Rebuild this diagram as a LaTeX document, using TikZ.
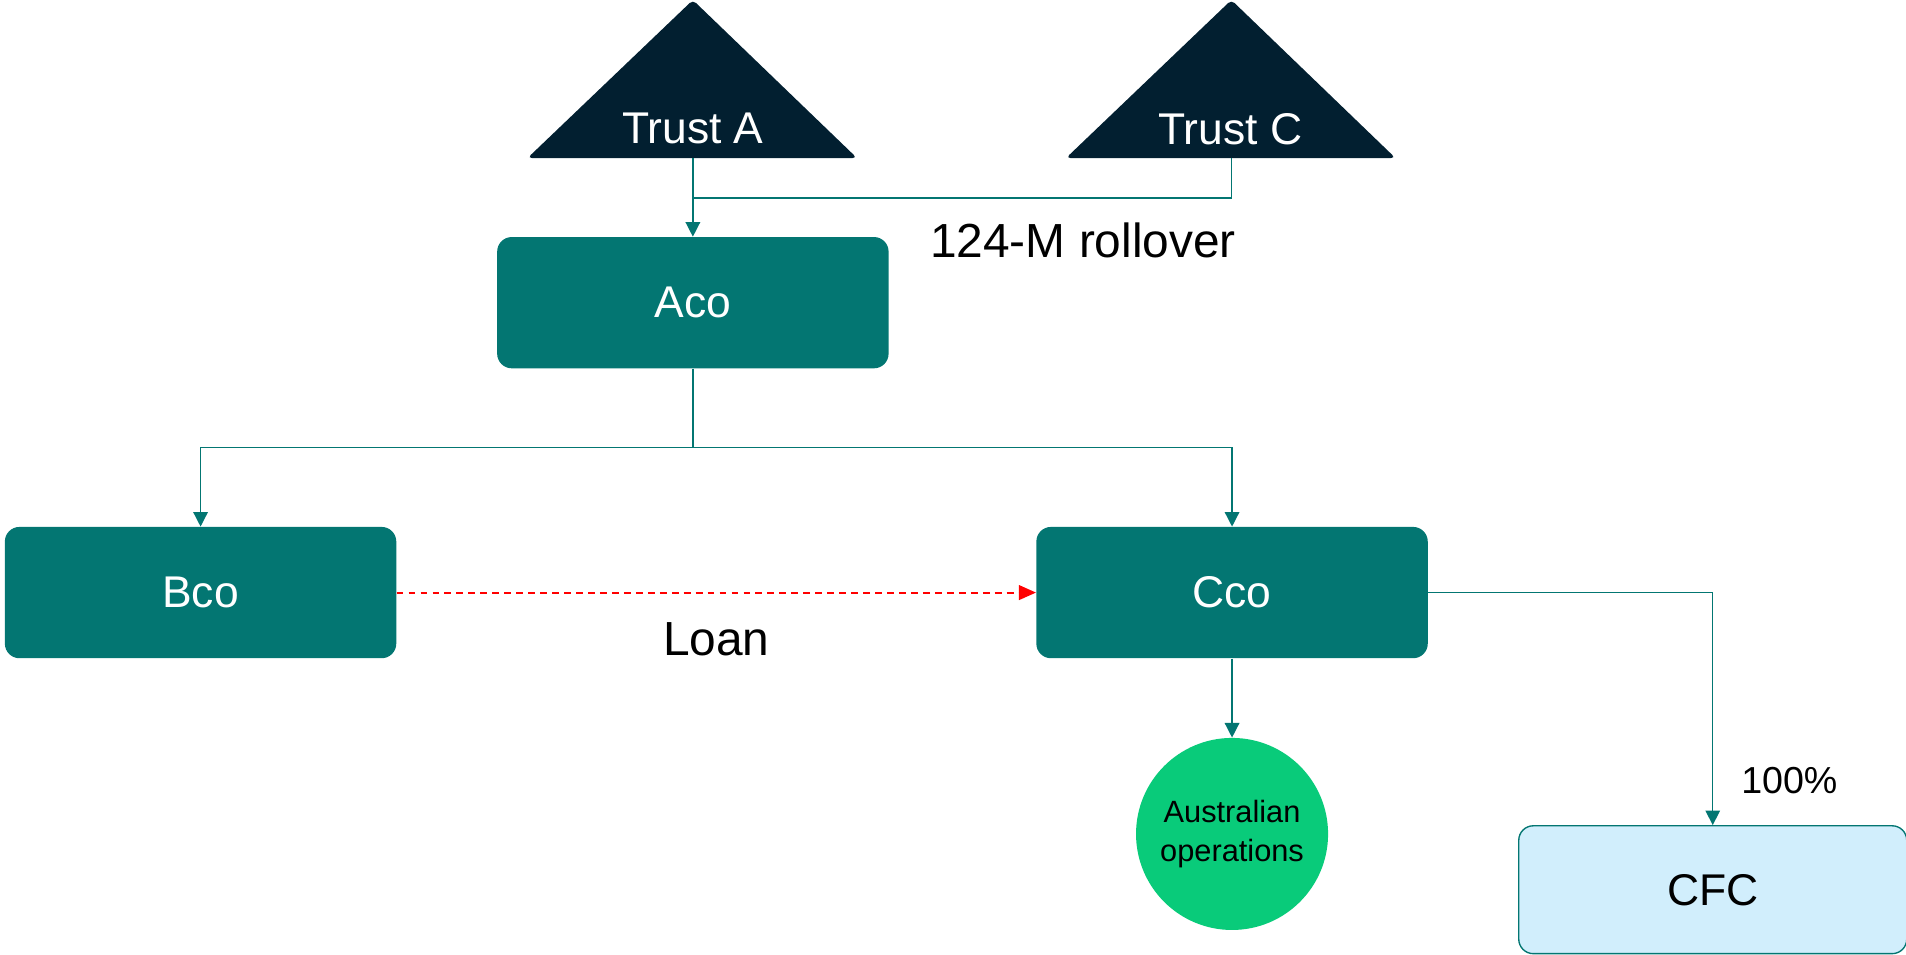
\documentclass[tikz,border=0pt]{standalone}
\usepackage{fontspec}
\setmainfont{Liberation Sans}
\usepackage{xcolor}
\usetikzlibrary{positioning,arrows.meta}

\definecolor{boxteal}{RGB}{3,118,114}
\definecolor{trustnavy}{RGB}{2,31,48}
\definecolor{opsgreen}{RGB}{9,203,122}
\definecolor{cfcblue}{RGB}{209,238,252}

\begin{document}
\begin{tikzpicture}[>={Triangle[length=3mm,width=3mm]},
    entity/.style={rectangle, rounded corners=3mm, fill=boxteal, text=white, minimum width=8.05cm, minimum height=2.7cm, inner sep=0pt, font=\fontsize{26}{31}\selectfont},
    trust/.style={fill=trustnavy, rounded corners=2.5pt},
    link/.style={draw=boxteal, line width=0.8pt},
    loan/.style={draw=red, line width=1.2pt, dash pattern=on 4pt off 3pt, -{Triangle[length=3.5mm,width=3mm]}},
    lbl/.style={font=\fontsize{28}{33}\selectfont}]
    \useasboundingbox (0,0) rectangle (39.2,19.625);

    \fill[trust] (10.85,16.375) -- (14.25,19.625) -- (17.625,16.375) -- cycle;
    \fill[trust] (21.925,16.375) -- (25.325,19.625) -- (28.7,16.375) -- cycle;
    \node[text=white, font=\fontsize{26}{31}\selectfont] (trustA) at (14.25,16.975) {Trust A};
    \node[text=white, font=\fontsize{26}{31}\selectfont] (trustC) at (25.3,16.975) {Trust C};
    \coordinate (tAbase) at (14.25,16.375);
    \coordinate (tCbase) at (25.325,16.375);
    \coordinate[below=0.825cm of tAbase] (join);

    \node[entity] (aco) at (14.25,13.4) {Aco};
    \node[entity] (bco) at (4.125,7.4375) {Bco};
    \node[entity, right=13.15cm of bco] (cco) {Cco};
    \node[circle, fill=opsgreen, minimum size=3.95cm, inner sep=0pt, align=center, font=\fontsize{18}{23}\selectfont, below=1.625cm of cco] (ops) {Australian\\operations};
    \node[entity, fill=cfcblue, draw=boxteal, line width=0.8pt, text=black, minimum width=7.98cm, minimum height=2.63cm, below right=3.425cm and 1.85cm of cco] (cfc) {CFC};
    \coordinate[below=1.625cm of aco] (split);

    \draw[link, ->] (tAbase) -- (aco);
    \draw[link] (tCbase) |- (join);
    \node[lbl] (rollover) at (22.275,14.675) {124-M rollover};

    \draw[link] (aco) -- (split);
    \draw[link, ->] (split) -| (bco);
    \draw[link, ->] (split) -| (cco);

    \draw[loan] (bco) -- node[lbl, yshift=-0.95cm] (loanlbl) {Loan} (cco);

    \draw[link, ->] (cco) -- (ops);
    \draw[link, ->] (cco.east) -| (cfc);
    \node[font=\fontsize{22}{26}\selectfont] (share) at (36.8,3.575) {100\%};
\end{tikzpicture}
\end{document}
